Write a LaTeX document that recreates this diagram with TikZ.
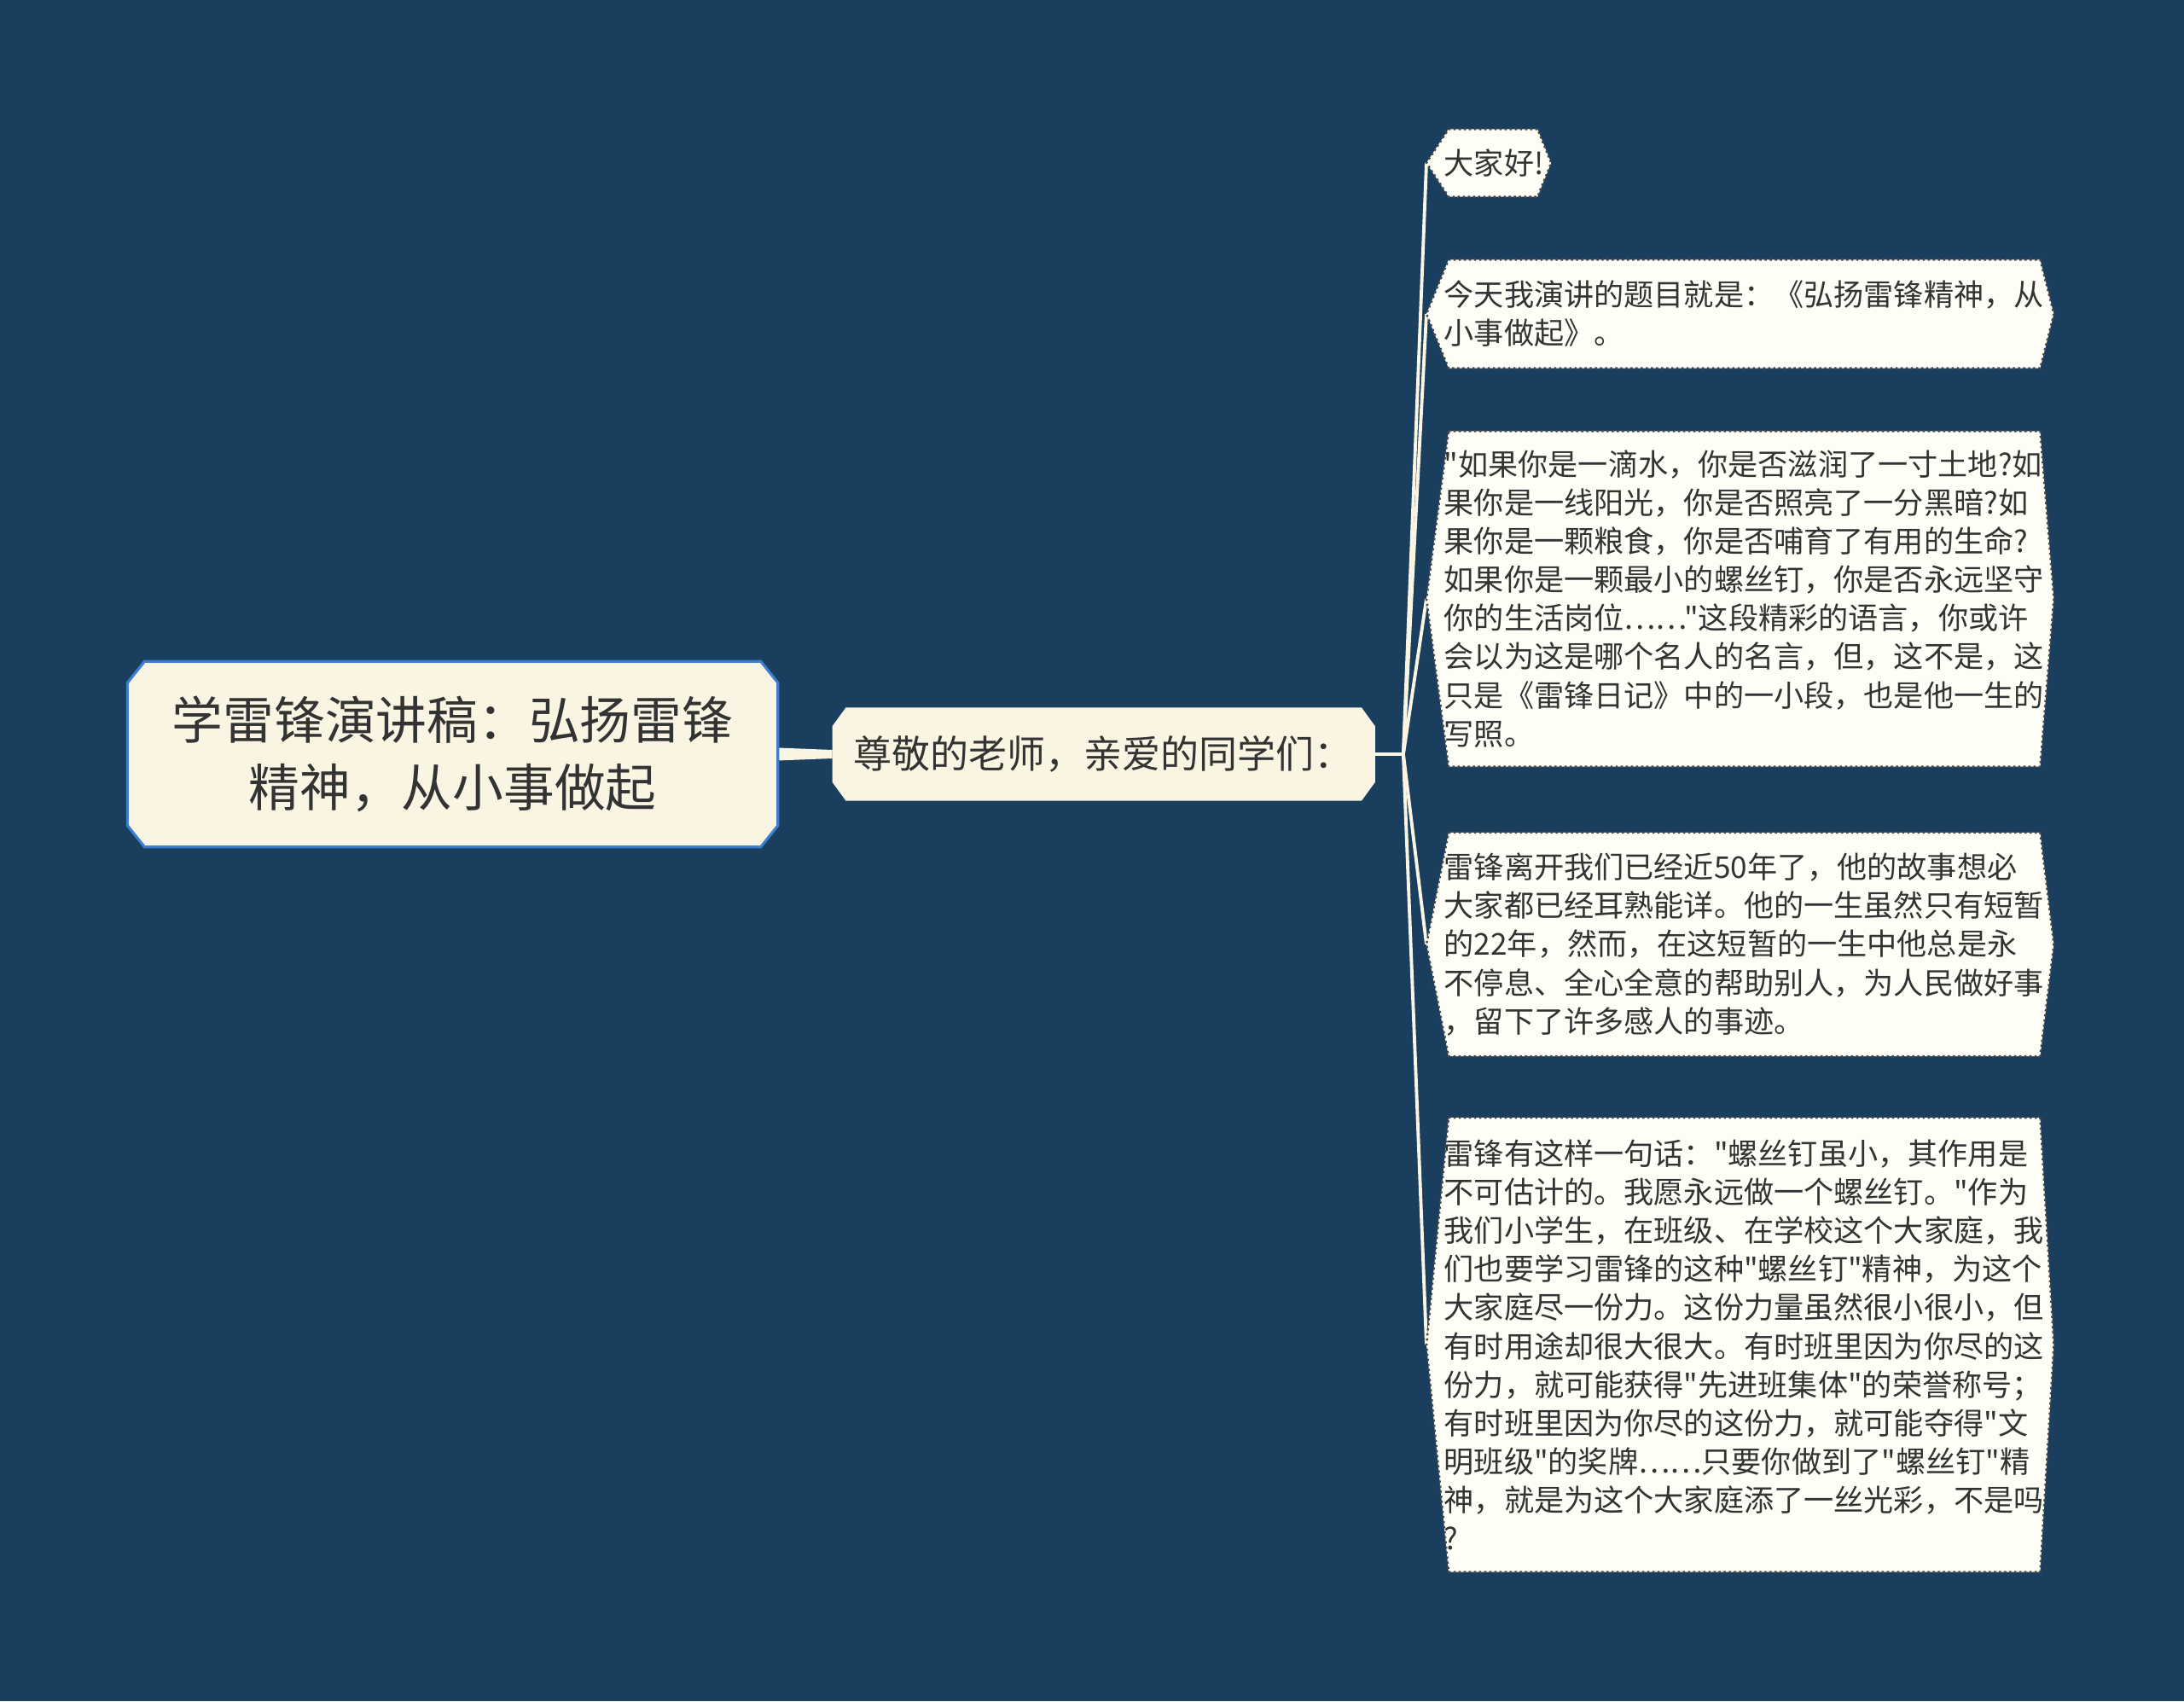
\documentclass[tikz,border=0pt]{standalone}
\usepackage{fontspec}
\newfontfamily\cjk{Noto Sans CJK SC}
\usepackage{tikz}
\usetikzlibrary{positioning,backgrounds}

\definecolor{navy}{RGB}{25,62,94}
\definecolor{cream}{RGB}{249,245,226}
\definecolor{paper}{RGB}{255,254,246}
\definecolor{ink}{RGB}{51,51,51}
\definecolor{rim}{RGB}{60,127,208}
\definecolor{dots}{RGB}{70,70,70}

\tikzset{
  title/.style={font=\cjk\fontsize{17}{22.3}\selectfont, text=ink, align=center,
    inner sep=0pt, minimum width=7.61cm, minimum height=2.16cm},
  greeting/.style={font=\cjk\fontsize{12.8}{15}\selectfont, text=ink, align=left,
    inner xsep=.24cm, inner ysep=0pt, text width=5.87cm, minimum height=1.08cm},
  leaf/.style={font=\cjk\fontsize{10}{12.82}\selectfont, text=ink, align=left,
    inner sep=0pt, anchor=west},
  longleaf/.style={leaf, text width=7.06cm},
  titlebox/.style={fill=cream, draw=rim, line width=.9pt},
  greetbox/.style={fill=cream},
  leafbox/.style={fill=paper, draw=dots, densely dotted, line width=.7pt},
  link/.style={draw=cream, line width=1.1pt},
}

% box with cut corners behind a node
\newcommand{\chamferback}[4]{%
  \path[#1] ([xshift=#3]#2.north west) -- ([xshift=-#3]#2.north east)
    -- ([yshift=-#4]#2.north east) -- ([yshift=#4]#2.south east)
    -- ([xshift=-#3]#2.south east) -- ([xshift=#3]#2.south west)
    -- ([yshift=#4]#2.south west) -- ([yshift=-#4]#2.north west) -- cycle;}
% pointed box behind a leaf
\newcommand{\leafback}[1]{%
  \path[leafbox] ([xshift=.06cm]#1.north west) -- ([xshift=-.08cm]#1.north east)
    -- ([xshift=.08cm]#1.east) -- ([xshift=-.08cm]#1.south east)
    -- ([xshift=.06cm]#1.south west) -- ([xshift=-.2cm]#1.west) -- cycle;}

\begin{document}
\begin{tikzpicture}
  \useasboundingbox (0,0) rectangle (25.6,19.94);

  \node[title] (root) at (5.306,11.10) {学雷锋演讲稿：弘扬雷锋\\精神，从小事做起};
  \node[greeting, right=0.637cm of root] (greet) {尊敬的老师，亲爱的同学们：};
  \coordinate[right=0.33cm of greet] (fork);

  \node[leaf, minimum height=.78cm] (hello) at (16.92,18.03) {大家好!};
  \node[longleaf, minimum height=1.26cm] (topic) at (16.92,16.26)
    {今天我演讲的题目就是：《弘扬雷锋精神，从\\小事做起》。};
  \node[longleaf, minimum height=3.92cm] (poem) at (16.92,12.92)
    {"如果你是一滴水，你是否滋润了一寸土地?如\\
     果你是一线阳光，你是否照亮了一分黑暗?如\\
     果你是一颗粮食，你是否哺育了有用的生命?\\
     如果你是一颗最小的螺丝钉，你是否永远坚守\\
     你的生活岗位……"这段精彩的语言，你或许\\
     会以为这是哪个名人的名言，但，这不是，这\\
     只是《雷锋日记》中的一小段，也是他一生的\\
     写照。};
  \node[longleaf, minimum height=2.61cm] (story) at (16.92,8.87)
    {雷锋离开我们已经近50年了，他的故事想必\\
     大家都已经耳熟能详。他的一生虽然只有短暂\\
     的22年，然而，在这短暂的一生中他总是永\\
     不停息、全心全意的帮助别人，为人民做好事\\
     ，留下了许多感人的事迹。};
  \node[longleaf, minimum height=5.31cm] (screw) at (16.92,4.176)
    {雷锋有这样一句话："螺丝钉虽小，其作用是\\
     不可估计的。我愿永远做一个螺丝钉。"作为\\
     我们小学生，在班级、在学校这个大家庭，我\\
     们也要学习雷锋的这种"螺丝钉"精神，为这个\\
     大家庭尽一份力。这份力量虽然很小很小，但\\
     有时用途却很大很大。有时班里因为你尽的这\\
     份力，就可能获得"先进班集体"的荣誉称号；\\
     有时班里因为你尽的这份力，就可能夺得"文\\
     明班级"的奖牌……只要你做到了"螺丝钉"精\\
     神，就是为这个大家庭添了一丝光彩，不是吗\\
     ?};

  \begin{pgfonlayer}{background}
    \fill[navy] (0,0) rectangle (25.6,19.94);
    % links
    \fill[cream] ([yshift=.075cm]root.east) -- ([yshift=.05cm]greet.west)
      -- ([yshift=-.05cm]greet.west) -- ([yshift=-.075cm]root.east) -- cycle;
    \draw[link, line width=1.4pt] (greet.east) -- (fork);
    \foreach \leafname in {hello,topic,poem,story,screw}{
      \draw[link] (fork) -- ([xshift=-.2cm]\leafname.west);
    }
    % boxes
    \chamferback{titlebox}{root}{.2cm}{.25cm}
    \chamferback{greetbox}{greet}{.16cm}{.22cm}
    \foreach \leafname in {hello,topic,poem,story,screw}{
      \leafback{\leafname}
    }
  \end{pgfonlayer}
\end{tikzpicture}
\end{document}
